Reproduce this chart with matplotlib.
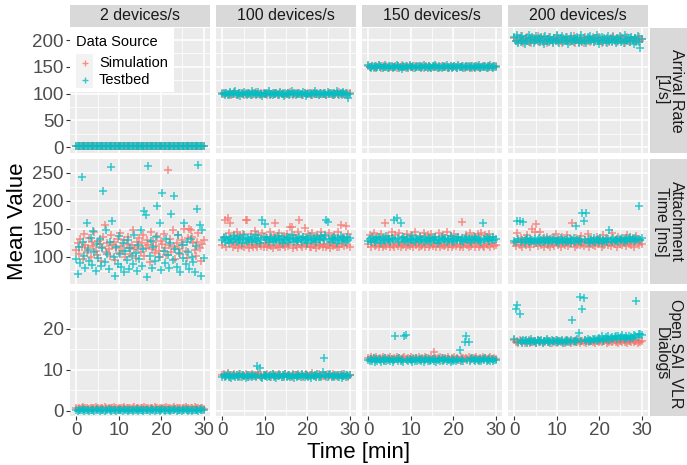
import numpy as np
import matplotlib
matplotlib.use("Agg")
import matplotlib.pyplot as plt
from matplotlib.patches import Rectangle
from matplotlib.lines import Line2D

plt.rcParams['font.family'] = ['Liberation Sans', 'DejaVu Sans']

# ---------------------------------------------------------------- data
time_min = np.linspace(0, 30, 100)          # sampling instants of the mean values

rates = ["2 devices/s", "100 devices/s", "150 devices/s", "200 devices/s"]
metrics = ["Arrival Rate\n[1/s]", "Attachment\nTime [ms]", "Open SAI_VLR\nDialogs"]
sources = ["Simulation", "Testbed"]
source_colors = ["#F8766D", "#00BFC4"]

# Arrival rate [1/s]
arrival_sim_2 = [2.0,2.1,1.9,2.0,2.2,1.8,2.0,2.1,2.0,1.9,2.1,2.0,1.9,2.2,2.0,1.8,2.1,2.0,2.0,1.9,
                 2.1,1.9,2.0,2.2,2.0,1.9,2.1,1.8,2.0,2.1,2.0,1.9,2.0,2.1,2.2,2.0,1.9,2.0,1.8,2.1,
                 2.0,2.1,1.9,2.0,2.0,2.2,1.9,2.0,2.1,1.9,2.0,1.8,2.1,2.0,2.0,2.1,1.9,2.2,2.0,1.9,
                 2.1,2.0,1.9,2.0,2.1,1.8,2.0,2.2,2.0,1.9,2.0,2.1,1.9,2.0,2.1,2.0,1.8,2.0,2.1,2.0,
                 1.9,2.1,2.0,2.2,1.9,2.0,2.0,2.1,1.9,2.0,2.1,1.8,2.0,2.0,2.2,1.9,2.1,2.0,1.9,2.0]
arrival_tb_2 = [2.1,1.8,2.0,2.3,1.9,2.0,1.7,2.2,2.0,1.9,2.1,2.4,1.8,2.0,2.1,1.9,2.2,1.7,2.0,2.1,
                1.9,2.0,2.3,1.8,2.1,2.0,1.9,2.2,1.8,2.0,2.1,1.7,2.0,2.3,1.9,2.1,2.0,1.8,2.2,1.9,
                2.0,2.1,1.8,2.0,2.4,1.9,2.0,2.2,1.7,2.1,1.9,2.0,2.3,1.8,2.0,2.1,1.9,2.2,2.0,1.8,
                2.1,1.9,2.0,2.2,1.7,2.0,2.1,1.9,2.3,2.0,1.8,2.1,2.0,1.9,2.2,1.8,2.0,2.1,1.7,2.0,
                2.2,1.9,2.0,2.1,1.8,2.3,2.0,1.9,2.1,2.0,1.8,2.2,1.9,2.0,2.1,1.7,2.0,2.2,1.9,2.0]
arrival_sim_100 = [101,99,100,102,98,100,101,97,100,103,99,100,98,101,102,100,99,97,101,100,
                   100,102,99,98,101,100,103,99,100,97,101,100,99,102,100,98,101,99,100,102,
                   99,100,101,98,100,102,99,101,100,97,100,101,99,103,100,98,100,101,99,100,
                   102,99,100,98,101,100,99,102,100,97,101,100,99,100,102,98,100,101,99,100,
                   101,98,100,102,99,101,100,97,100,101,99,103,100,98,101,100,99,102,100,101]
arrival_tb_100 = [99,102,98,101,100,97,103,100,99,101,104,98,100,102,96,101,99,103,100,98,
                  101,100,97,104,99,101,98,100,103,99,100,96,102,100,99,101,104,98,100,97,
                  102,99,101,100,98,103,100,99,96,101,100,102,98,100,104,99,101,97,100,102,
                  99,100,98,103,101,96,100,99,102,100,98,101,104,99,100,97,102,100,99,101,
                  100,98,103,99,101,100,97,102,100,104,99,98,101,100,103,99,101,97,91,100]
arrival_sim_150 = [151,149,150,152,148,150,151,149,153,150,148,151,150,149,152,150,147,151,150,149,
                   150,152,148,151,149,150,153,150,149,148,151,150,152,149,150,148,151,150,149,152,
                   149,150,151,148,150,152,149,151,150,147,150,151,149,152,150,148,150,151,149,150,
                   152,149,150,148,151,150,149,152,150,148,151,150,149,150,152,148,150,151,149,150,
                   151,148,150,152,149,151,150,148,150,151,149,152,150,148,151,150,149,152,150,151]
arrival_tb_150 = [153,150,148,152,149,151,147,150,154,149,151,148,150,153,149,147,151,150,152,148,
                  150,149,153,151,148,150,146,151,149,152,150,148,154,150,149,151,147,150,152,149,
                  151,148,150,153,149,150,147,152,150,148,151,149,154,150,148,151,150,147,152,149,
                  150,153,148,150,151,147,149,152,150,148,153,150,149,151,147,150,152,149,151,148,
                  150,152,149,147,151,150,153,148,150,149,152,150,147,151,149,153,150,148,151,149]
arrival_sim_200 = [203,198,205,196,201,207,199,194,202,200,206,197,203,195,200,204,198,201,208,196,
                   200,203,197,205,199,194,202,206,198,201,196,204,200,207,197,202,199,195,203,200,
                   198,205,201,196,203,199,207,194,200,202,197,204,199,201,195,206,200,198,203,197,
                   201,205,196,200,203,198,206,199,194,202,200,197,204,201,196,203,199,207,198,201,
                   196,203,200,205,198,202,195,201,206,199,197,204,200,198,203,196,201,205,199,202]
arrival_tb_200 = [206,199,210,195,203,197,208,201,193,204,199,209,196,202,205,194,200,207,198,203,
                  196,205,200,193,208,199,202,196,206,201,195,204,198,209,200,194,203,207,197,201,
                  205,198,193,202,208,199,196,204,200,206,195,201,209,197,203,199,194,205,200,207,
                  198,202,196,204,210,199,193,201,206,197,203,200,195,208,199,202,196,205,201,194,
                  204,199,207,197,202,195,209,200,198,204,196,206,201,193,203,199,207,197,185,202]

# Attachment time [ms]
attach_sim_2 = [112,125,104,131,118,96,140,121,108,115,133,99,127,119,145,110,103,128,122,92,
                117,136,156,109,124,113,101,138,120,126,94,115,131,107,142,119,111,129,100,123,
                135,116,105,121,148,113,97,127,118,134,108,125,139,102,116,130,121,91,144,114,
                126,106,119,137,111,99,128,123,141,115,103,255,120,132,109,147,117,95,125,138,
                113,104,129,121,150,110,98,133,150,148,136,124,112,101,127,143,116,93,122,130]
attach_tb_2 = [95,69,118,88,242,127,101,79,161,112,93,134,85,146,108,74,122,97,131,83,
               115,217,90,147,104,77,126,261,164,99,66,118,87,137,105,81,124,72,110,94,
               129,78,116,101,86,139,107,75,121,96,147,84,113,181,175,63,263,102,128,80,
               117,92,135,191,99,160,76,214,111,88,132,103,79,125,177,94,208,114,82,138,
               106,73,120,97,160,86,127,109,77,131,100,90,72,119,186,265,156,66,147,98]
attach_sim_100 = [121,135,166,118,170,143,160,124,117,139,120,145,116,122,137,119,141,118,166,166,
                  123,116,140,121,118,146,120,117,138,122,119,142,117,124,136,118,121,144,119,116,
                  139,160,120,118,143,117,125,121,137,118,141,119,123,153,153,116,139,120,118,145,
                  165,121,117,136,151,119,122,140,117,118,143,120,124,116,138,119,121,145,117,123,
                  137,118,120,142,116,124,119,139,121,117,144,118,157,122,136,119,155,120,141,118]
attach_tb_100 = [129,133,127,136,130,125,134,131,128,137,132,126,135,129,133,124,131,138,130,127,
                 134,129,136,126,132,130,139,128,133,125,131,165,135,158,129,134,127,132,136,130,
                 126,133,129,137,131,128,135,124,132,130,136,127,133,129,138,131,126,134,130,128,
                 135,132,127,136,129,133,125,131,137,130,128,134,131,126,135,132,129,137,133,130,
                 138,166,163,131,127,134,129,136,132,125,133,130,137,128,134,131,126,135,130,133]
attach_sim_150 = [122,138,117,126,143,119,121,136,118,124,140,117,120,160,119,137,122,118,144,121,
                  117,139,123,119,142,118,125,120,136,117,141,121,119,138,122,118,145,120,124,117,
                  137,119,121,143,118,123,139,117,120,141,119,122,136,118,124,142,117,121,138,119,
                  120,144,118,123,137,117,121,140,119,122,136,118,120,163,117,124,139,121,118,142,
                  119,122,137,117,125,140,118,121,143,119,117,138,122,120,141,118,124,136,119,121]
attach_tb_150 = [128,132,126,135,130,127,133,129,136,131,125,134,130,128,137,129,132,126,134,131,
                 165,129,170,133,127,160,131,135,128,130,134,126,132,129,137,130,127,133,131,128,
                 135,129,132,126,136,130,128,134,131,127,133,129,136,130,125,132,128,135,131,129,
                 134,127,132,130,137,128,131,126,133,129,135,130,128,134,127,131,136,129,132,130,
                 126,133,129,135,131,128,134,130,127,160,132,129,136,131,128,133,130,135,129,132]
attach_sim_200 = [125,119,143,128,121,134,117,126,131,120,138,123,118,129,150,122,145,158,119,127,
                  144,121,132,118,125,136,120,128,117,133,123,119,140,126,121,130,118,135,124,120,
                  127,139,119,122,131,160,125,118,134,121,128,120,137,123,119,129,126,141,118,124,
                  132,120,127,119,136,122,125,130,118,138,121,127,133,120,124,119,142,126,122,129,
                  118,135,123,128,120,131,125,119,139,122,127,121,134,118,126,137,124,120,130,123]
attach_tb_200 = [128,126,164,131,164,127,130,163,125,129,133,127,131,126,130,128,132,125,129,134,
                 127,130,126,133,128,131,125,129,132,127,130,134,126,128,131,125,133,129,127,130,
                 126,132,128,131,125,129,133,127,155,130,128,132,126,179,164,129,179,127,131,125,
                 130,128,133,126,129,131,127,134,125,130,128,132,126,131,147,129,127,133,128,130,
                 132,126,131,129,134,127,130,133,128,131,135,129,132,128,134,130,131,190,129,133]

# Open SAI_VLR dialogs
dialogs_sim_2 = [0.6,0.5,0.7,0.4,0.6,0.8,0.5,0.6,0.7,0.5,0.4,0.6,0.7,0.5,0.6,0.9,0.5,0.6,0.4,0.7,
                 0.6,0.5,0.8,0.6,0.4,0.7,0.5,0.6,0.6,0.9,0.5,0.7,0.4,0.6,0.5,0.7,0.6,0.8,0.5,0.6,
                 0.7,0.4,0.6,0.5,0.6,0.8,0.5,0.7,0.6,0.4,0.6,0.7,0.5,0.9,0.6,0.5,0.7,0.4,0.6,0.6,
                 0.5,0.8,0.6,0.7,0.4,0.6,0.5,0.7,0.6,0.5,0.8,0.6,0.4,0.7,0.5,0.6,0.9,0.5,0.6,0.7,
                 0.4,0.6,0.5,0.7,0.6,0.8,0.5,0.6,0.4,0.7,0.6,0.5,0.8,0.6,0.5,0.7,0.4,0.6,0.7,0.5]
dialogs_tb_2 = [0.1,0.0,0.2,0.1,0.1,0.3,0.0,0.1,0.2,0.1,0.0,0.1,0.2,0.1,0.0,0.1,0.3,0.1,0.0,0.2,
                0.1,0.1,0.0,0.2,0.1,0.3,0.1,0.0,0.1,0.2,0.1,0.0,0.1,0.2,0.1,0.1,0.0,0.3,0.1,0.2,
                0.0,0.1,0.2,0.1,0.0,0.1,0.1,0.3,0.0,0.1,0.2,0.1,0.0,0.1,0.2,0.1,0.1,0.0,0.3,0.1,
                0.2,0.0,0.1,0.1,0.2,0.0,0.1,0.3,0.1,0.0,0.1,0.2,0.1,0.0,0.1,0.2,0.1,0.3,0.0,0.1,
                0.1,0.2,0.0,0.1,0.1,0.3,0.1,0.0,0.2,0.1,0.0,0.1,0.2,0.1,0.1,0.0,0.3,0.1,0.2,0.1]
dialogs_sim_100 = [8.6,8.9,8.4,8.7,9.1,8.5,8.3,8.8,8.6,9.0,8.4,8.7,8.5,8.9,8.2,8.6,8.8,8.4,9.0,8.5,
                   8.7,8.3,8.6,8.9,8.5,8.8,8.4,8.6,9.1,8.5,8.7,8.3,8.8,8.6,8.4,9.0,8.5,8.7,8.3,8.9,
                   8.6,8.4,8.8,8.5,9.0,8.6,8.3,8.7,8.5,8.9,8.4,8.6,8.8,8.5,8.3,8.9,8.6,8.7,8.4,9.0,
                   8.5,8.8,8.6,8.3,8.7,8.9,8.5,8.4,8.8,8.6,9.1,8.5,8.7,8.3,8.6,8.9,8.4,8.7,8.5,8.8,
                   8.6,8.3,8.9,8.5,8.7,8.4,9.0,8.6,8.5,8.8,8.3,8.7,8.6,8.9,8.4,8.5,8.8,8.6,8.3,8.7]
dialogs_tb_100 = [8.3,8.7,8.1,8.5,8.9,8.2,8.6,8.0,8.4,8.8,8.3,8.6,8.1,8.5,8.9,8.2,8.7,8.4,8.0,8.6,
                  8.3,8.8,8.5,8.1,8.7,8.4,8.2,10.8,8.6,10.5,8.3,8.0,8.7,8.4,8.8,8.2,8.5,8.1,8.6,8.9,
                  8.3,8.5,8.0,8.7,8.4,8.8,8.2,8.6,8.3,8.9,8.1,8.5,8.7,8.2,8.4,8.8,8.0,8.6,8.3,8.7,
                  8.5,8.1,8.9,8.4,8.2,8.6,8.8,8.3,8.5,8.0,8.7,8.4,8.6,8.2,8.9,8.3,8.5,8.1,9.5,12.9,
                  8.4,8.7,8.2,8.6,8.9,8.3,8.5,8.1,8.7,8.4,8.8,8.2,8.6,8.0,8.5,8.9,8.3,8.7,8.4,8.6]
dialogs_sim_150 = [12.9,12.5,13.1,12.6,12.8,12.4,13.0,12.7,12.5,12.9,12.6,13.2,12.4,12.8,12.6,12.9,12.5,13.0,12.7,12.4,
                   12.8,12.6,13.1,12.5,12.9,12.7,12.4,12.8,13.0,12.6,12.5,12.9,12.7,13.1,12.4,12.8,12.6,12.9,12.5,13.0,
                   12.7,12.4,12.8,12.6,13.1,12.5,12.9,12.7,12.4,13.0,12.6,14.4,12.8,12.5,12.9,12.7,13.1,12.4,12.8,12.6,
                   12.9,12.5,13.0,12.7,12.4,12.8,12.6,13.1,12.5,12.9,12.7,12.4,13.0,12.6,12.8,12.5,12.9,12.7,13.1,12.4,
                   12.8,12.6,12.9,12.5,13.0,12.7,12.4,12.8,12.6,13.1,12.5,12.9,12.7,12.4,12.8,13.0,12.6,12.5,12.9,12.7]
dialogs_tb_150 = [12.4,12.0,12.6,12.2,12.8,11.9,12.5,12.1,12.7,12.3,11.8,12.6,12.2,12.9,12.0,12.4,12.7,12.1,12.5,11.9,
                  12.3,18.3,12.6,12.0,12.8,12.2,12.5,11.9,18.3,18.4,12.4,12.1,12.7,12.3,11.8,12.6,12.2,12.9,12.0,12.4,
                  12.7,12.1,12.5,11.9,12.3,12.8,12.2,12.6,12.0,12.4,12.7,12.1,12.5,11.9,12.3,12.6,12.2,12.8,12.0,12.4,
                  12.5,12.1,12.7,12.3,11.8,12.6,12.2,12.4,12.0,12.5,12.3,14.9,12.1,12.6,12.2,16.8,18.3,12.4,16.8,12.0,
                  12.5,12.9,12.3,12.1,12.7,12.4,12.2,12.6,12.0,12.5,12.3,12.8,12.1,12.4,12.6,12.2,12.5,12.0,12.3,12.4]
dialogs_sim_200 = [17.2,16.8,17.0,16.6,17.3,16.9,16.7,17.1,16.5,17.0,16.8,17.2,16.6,16.9,17.1,16.7,17.0,16.5,17.2,16.8,
                   16.9,17.1,16.6,17.0,16.8,17.3,16.7,16.9,17.1,16.5,17.0,16.8,17.2,16.6,16.9,17.0,16.7,17.1,16.8,16.5,
                   17.2,16.9,16.7,17.0,16.6,17.1,16.8,16.9,17.3,16.7,17.0,16.6,16.9,17.1,16.8,17.2,16.5,17.0,16.8,16.9,
                   17.1,16.7,17.0,16.6,17.2,16.9,16.8,17.1,16.7,17.0,16.9,17.3,16.6,17.0,16.8,17.1,16.7,16.9,17.2,16.8,
                   17.0,16.6,17.1,16.9,16.7,17.2,16.8,17.0,16.6,17.1,16.9,16.8,17.2,16.7,17.0,16.9,16.6,17.1,16.8,17.0]
dialogs_tb_200 = [17.4,24.9,25.8,16.8,23.6,17.1,16.6,17.3,16.9,17.2,16.5,17.0,16.8,17.4,16.7,17.1,16.9,16.6,17.3,17.0,
                  16.8,17.2,16.5,17.1,16.9,17.4,16.7,17.0,16.6,17.2,16.9,17.1,16.8,17.3,16.7,17.0,16.9,17.2,16.6,17.1,
                  16.8,17.3,17.0,16.7,17.2,22.2,16.9,17.1,16.8,17.4,18.9,27.8,17.0,24.8,27.4,17.2,16.9,17.5,17.1,17.3,
                  16.9,17.4,17.2,17.6,17.0,17.5,17.8,17.3,18.2,17.1,17.6,17.9,17.4,18.3,17.2,17.7,18.0,17.5,17.9,18.1,
                  17.6,18.2,17.4,17.9,18.4,17.7,17.5,18.1,17.8,18.3,17.6,18.0,17.7,18.4,18.2,26.8,17.9,18.6,18.8,18.5]

values = [
    [(arrival_sim_2, arrival_tb_2), (arrival_sim_100, arrival_tb_100),
     (arrival_sim_150, arrival_tb_150), (arrival_sim_200, arrival_tb_200)],
    [(attach_sim_2, attach_tb_2), (attach_sim_100, attach_tb_100),
     (attach_sim_150, attach_tb_150), (attach_sim_200, attach_tb_200)],
    [(dialogs_sim_2, dialogs_tb_2), (dialogs_sim_100, dialogs_tb_100),
     (dialogs_sim_150, dialogs_tb_150), (dialogs_sim_200, dialogs_tb_200)],
]

x_ticks = [0, 10, 20, 30]
y_ticks = [[0, 50, 100, 150, 200], [100, 150, 200, 250], [0, 10, 20]]
y_limits = [(-11, 222.5), (51, 275), (-1.3, 29.2)]

# ---------------------------------------------------------------- layout (pixels)
W, H = 687, 465
fig = plt.figure(figsize=(W / 100, H / 100), dpi=100)
fig.patch.set_facecolor("white")

col_left = [70, 216, 362, 508]
panel_w = 140
row_top = [28, 159, 291]
panel_h = 125


def rect(left, top, w, h):
    return [left / W, 1 - (top + h) / H, w / W, h / H]


PANEL_BG = "#EBEBEB"
STRIP_BG = "#D9D9D9"
TICK_COL = "#4D4D4D"

for r in range(3):
    for c in range(4):
        ax = fig.add_axes(rect(col_left[c], row_top[r], panel_w, panel_h))
        ax.set_facecolor(PANEL_BG)
        for s in ax.spines.values():
            s.set_visible(False)
        ax.set_xlim(-1.5, 31.5)
        ax.set_ylim(*y_limits[r])
        ax.set_xticks(x_ticks)
        ax.set_xticks([5, 15, 25], minor=True)
        yt = y_ticks[r]
        step = yt[1] - yt[0]
        ax.set_yticks(yt)
        minors = [v + step / 2 for v in [yt[0] - step] + yt]
        ax.set_yticks([m for m in minors if y_limits[r][0] < m < y_limits[r][1]], minor=True)
        ax.grid(which="major", color="white", linewidth=1.1)
        ax.grid(which="minor", color="white", linewidth=0.55)
        ax.set_axisbelow(True)
        ax.tick_params(which="minor", length=0)
        ax.tick_params(which="major", colors="#333333", labelcolor=TICK_COL,
                       labelsize=13.5, length=3, width=0.8, pad=1.5)
        if c > 0:
            ax.tick_params(axis="y", left=False, labelleft=False)
        if r < 2:
            ax.tick_params(axis="x", bottom=False, labelbottom=False)

        sim_vals, tb_vals = values[r][c]
        for vals, col in zip((sim_vals, tb_vals), source_colors):
            ax.plot(time_min, vals, linestyle="none", marker="+", markersize=5.5,
                    markeredgewidth=1.1, color=col, alpha=0.8)

# column strips
for c in range(4):
    sax = fig.add_axes(rect(col_left[c], 5, panel_w, 22))
    sax.set_facecolor(STRIP_BG)
    sax.set_xticks([]); sax.set_yticks([])
    for s in sax.spines.values():
        s.set_visible(False)
    sax.text(0.5, 0.5, rates[c], ha="center", va="center", fontsize=11.5, color="#1A1A1A",
             transform=sax.transAxes)

# row strips
for r in range(3):
    sax = fig.add_axes(rect(650, row_top[r], 37, panel_h))
    sax.set_facecolor(STRIP_BG)
    sax.set_xticks([]); sax.set_yticks([])
    for s in sax.spines.values():
        s.set_visible(False)
    sax.text(0.5, 0.5, metrics[r], ha="center", va="center", fontsize=11.5, color="#1A1A1A",
             rotation=-90, linespacing=1.0, transform=sax.transAxes)

# axis titles
fig.text(359 / W, 1 - 452 / H, "Time [min]", ha="center", va="center", fontsize=16)
fig.text(18 / W, 1 - 221 / H, "Mean Value", ha="center", va="center", fontsize=16,
         rotation=90)

# legend box inside the first panel
fig.add_artist(Rectangle((70 / W, 1 - 92 / H), 104 / W, 64 / H, transform=fig.transFigure,
                         facecolor="white", edgecolor="none", zorder=5))
fig.text(76 / W, 1 - 41.5 / H, "Data Source", ha="left", va="center", fontsize=10.5, zorder=6)
for i, (name, col) in enumerate(zip(sources, source_colors)):
    yc = 63 + i * 17
    fig.add_artist(Rectangle((76 / W, 1 - (yc + 8.5) / H), 17 / W, 17 / H,
                             transform=fig.transFigure, facecolor="#F2F2F2",
                             edgecolor="none", zorder=6))
    fig.add_artist(Line2D([84.5 / W], [1 - yc / H], transform=fig.transFigure,
                          linestyle="none", marker="+", markersize=5, markeredgewidth=1.0,
                          color=col, alpha=0.8, zorder=7))
    fig.text(99 / W, 1 - yc / H, name, ha="left", va="center", fontsize=10.5, zorder=7)

fig.savefig("out.png", dpi=100)
